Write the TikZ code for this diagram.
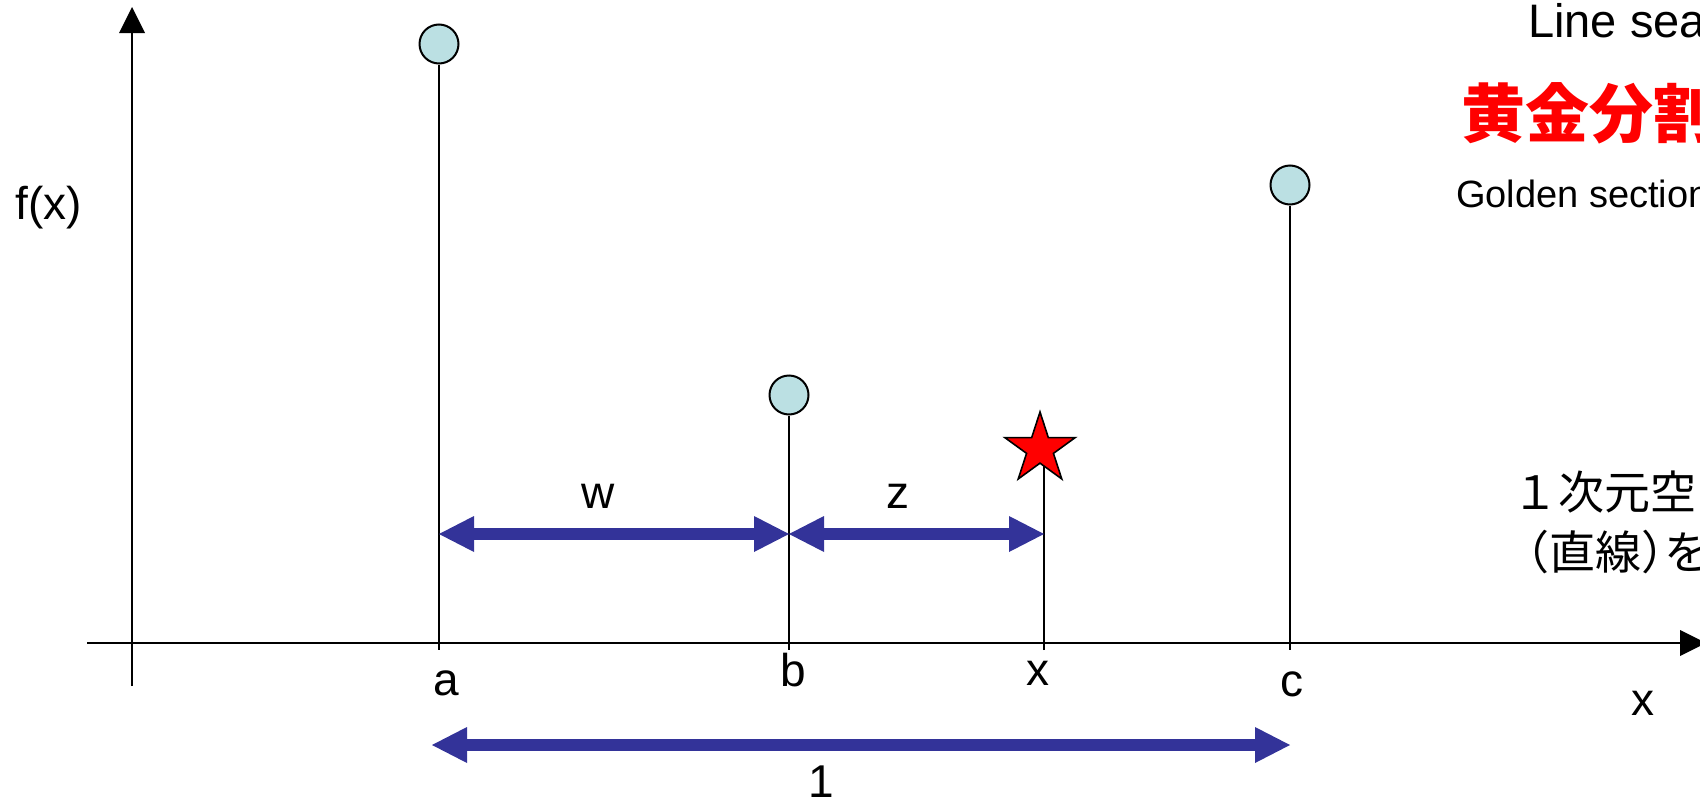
\documentclass[tikz,border=0pt]{standalone}
\usepackage{fontspec}
\setmainfont{Liberation Sans}
\newfontfamily\cjk{Noto Sans CJK JP}
\usetikzlibrary{arrows.meta,shapes.geometric}
\definecolor{ptfill}{RGB}{187,224,227}
\definecolor{arrowblue}{RGB}{51,51,153}
\begin{document}
\begin{tikzpicture}[x=1pt,y=-1pt,
  axis/.style={line width=1.8pt, arrows={-Triangle[width=26pt,length=26pt,line width=0pt]}},
  stem/.style={line width=2.2pt},
  ptnode/.style={circle, draw, line width=2pt, fill=ptfill, minimum size=39pt, inner sep=0pt},
  starnode/.style={star, star points=5, star point ratio=2.618, draw, line width=1.6pt, fill=red, minimum size=74pt, inner sep=0pt},
  dbl/.style={draw=arrowblue, line width=12pt, arrows={Triangle[width=36pt,length=35pt,line width=0pt]-Triangle[width=36pt,length=35pt,line width=0pt]}},
  lbl/.style={font=\fontsize{46}{52}\selectfont, inner sep=0pt},
]
\useasboundingbox (0,0) rectangle (1700,803);
\clip (0,0) rectangle (1700,803);

% axes
\coordinate (yb) at (132,686);
\coordinate (yt) at (132,7);
\coordinate (xl) at (87,643);
\coordinate (xr) at (1706,643);
\draw[axis] (yb) -- (yt);
\draw[axis] (xl) -- (xr);

% feet of stems
\coordinate (fa) at (439,650);
\coordinate (fb) at (789,650);
\coordinate (fx) at (1044,650);
\coordinate (fc) at (1290,650);
\coordinate (sxb) at (1044,466);

% points
\node[ptnode] (pa) at (439,44) {};
\node[ptnode] (pb) at (789,395) {};
\node[ptnode] (pc) at (1290,185) {};
\draw[stem] (pa) -- (fa);
\draw[stem] (pb) -- (fb);
\draw[stem] (pc) -- (fc);
\draw[stem] (fx) -- (sxb);
\node[starnode] (sx) at (1040,449) {};

% dimension arrows
\coordinate (wl) at (439,534);
\coordinate (wr) at (789,534);
\coordinate (zr) at (1044,534);
\coordinate (ul) at (432,745);
\coordinate (ur) at (1290,745);
\draw[dbl] (wl) -- (wr);
\draw[dbl] (wr) -- (zr);
\draw[dbl] (ul) -- (ur);

% labels
\node[lbl] (lw) at (598,496) {w};
\node[lbl] (lz) at (898,496) {z};
\node[lbl] (l1) at (821,782) {1};
\node[lbl] (la) at (446,683) {a};
\node[lbl] (lb) at (793,670) {b};
\node[lbl] (lxx) at (1038,673) {x};
\node[lbl] (lc) at (1292,684) {c};
\node[lbl] (lx) at (1643,703) {x};
\node[lbl] (lf) at (49,208) {f(x)};

% right-hand texts
\node[anchor=base west, inner sep=0pt, font=\fontsize{47}{52}\selectfont] (t1) at (1528,37) {Line search};
\node[anchor=west, inner sep=0pt, text=red, font=\cjk\bfseries\fontsize{64}{70}\selectfont] (t2) at (1461,113) {黄金分割法};
\node[anchor=base west, inner sep=0pt, font=\fontsize{38}{44}\selectfont] (t3) at (1456,207) {Golden section search};
\node[anchor=west, inner sep=0pt, font=\cjk\fontsize{46}{52}\selectfont] (t4) at (1512,492) {１次元空間};
\node[anchor=west, inner sep=0pt, font=\cjk\fontsize{46}{52}\selectfont] (t5) at (1503,552) {（直線）\kern-0.5emを探索};
\end{tikzpicture}
\end{document}
